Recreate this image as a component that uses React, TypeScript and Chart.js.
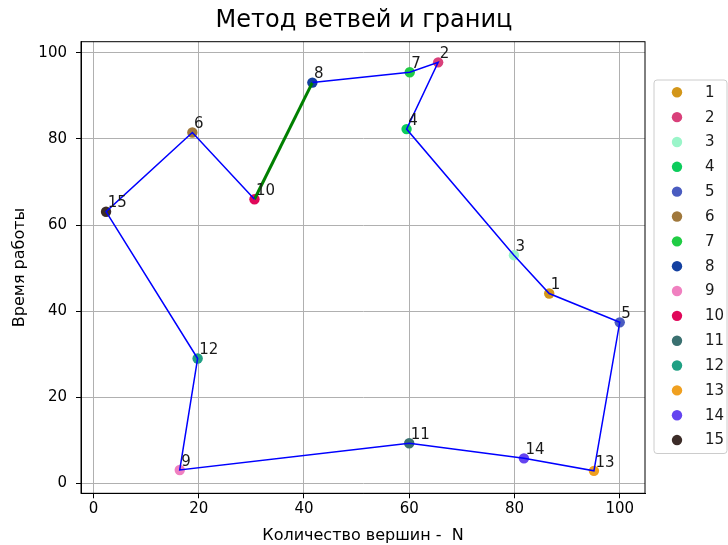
import React, { useEffect, useRef } from 'react';
import { Chart, registerables } from 'chart.js';

Chart.register(...registerables);

// ---- data ----
const vertexLabels = ['1', '2', '3', '4', '5', '6', '7', '8', '9', '10', '11', '12', '13', '14', '15'];
const xValues = [86.6, 65.5, 79.9, 59.5, 100.0, 18.8, 60.1, 41.6, 16.4, 30.6, 60.0, 19.8, 95.1, 81.8, 2.4];
const yValues = [44.1, 97.8, 53.0, 82.3, 37.4, 81.5, 95.5, 93.1, 3.1, 66.0, 9.3, 29.0, 2.9, 5.8, 63.1];
const vertexColors = [
  '#d39619', '#d9407a', '#9af5c9', '#0ccc5c', '#4a5cc0',
  '#a0783c', '#20cc44', '#1440a0', '#f080c0', '#e0085a',
  '#3a7070', '#20a084', '#f0a020', '#6444f0', '#3c2c28',
];
const routeOrder = [10, 6, 15, 12, 9, 11, 14, 13, 5, 1, 3, 4, 2, 7, 8];
const highlightEdge = [8, 10];
const xTicks = [0, 20, 40, 60, 80, 100];
const yTicks = [0, 20, 40, 60, 80, 100];

const titleText = 'Метод ветвей и границ';
const xTitle = 'Количество вершин -  N';
const yTitle = 'Время работы';

const FONT = "'DejaVu Sans', sans-serif";

export default function App() {
  const ref = useRef<HTMLCanvasElement>(null);

  useEffect(() => {
    const canvas = ref.current;
    if (!canvas) return;

    const idx = (n: number) => vertexLabels.indexOf(String(n));
    const routeData = routeOrder.map((n) => ({ x: xValues[idx(n)], y: yValues[idx(n)] }));
    const edgeData = highlightEdge.map((n) => ({ x: xValues[idx(n)], y: yValues[idx(n)] }));

    const pointDatasets = vertexLabels.map((lab, i) => ({
      type: 'scatter' as const,
      label: lab,
      data: [{ x: xValues[i], y: yValues[i] }],
      backgroundColor: vertexColors[i],
      borderColor: vertexColors[i],
      borderWidth: 0,
      pointRadius: 5.2,
      pointHoverRadius: 5.2,
      order: 1,
    }));

    const framePlugin = {
      id: 'frame',
      afterDraw(chart: any) {
        const { ctx, chartArea: a } = chart;
        ctx.save();
        ctx.strokeStyle = '#000';
        ctx.lineWidth = 1;
        ctx.strokeRect(a.left, a.top, a.right - a.left, a.bottom - a.top);
        ctx.restore();
      },
    };

    const labelPlugin = {
      id: 'pointLabels',
      afterDatasetsDraw(chart: any) {
        const { ctx, scales } = chart;
        ctx.save();
        ctx.font = `15px ${FONT}`;
        ctx.fillStyle = '#1a1a1a';
        ctx.textAlign = 'left';
        ctx.textBaseline = 'alphabetic';
        vertexLabels.forEach((lab, i) => {
          const px = scales.x.getPixelForValue(xValues[i] + 0.3);
          const py = scales.y.getPixelForValue(yValues[i] + 1.0);
          ctx.fillText(lab, px, py);
        });
        ctx.restore();
      },
    };

    const legendPlugin = {
      id: 'customLegend',
      afterDraw(chart: any) {
        const { ctx } = chart;
        const left = 654, top = 80, right = 727, bottom = 453.5, r = 3;
        ctx.save();
        ctx.beginPath();
        ctx.moveTo(left + r, top);
        ctx.lineTo(right - r, top);
        ctx.quadraticCurveTo(right, top, right, top + r);
        ctx.lineTo(right, bottom - r);
        ctx.quadraticCurveTo(right, bottom, right - r, bottom);
        ctx.lineTo(left + r, bottom);
        ctx.quadraticCurveTo(left, bottom, left, bottom - r);
        ctx.lineTo(left, top + r);
        ctx.quadraticCurveTo(left, top, left + r, top);
        ctx.closePath();
        ctx.fillStyle = 'rgba(255,255,255,0.8)';
        ctx.fill();
        ctx.strokeStyle = '#cccccc';
        ctx.lineWidth = 1;
        ctx.stroke();
        const step = 24.84;
        ctx.font = `15px ${FONT}`;
        ctx.textAlign = 'left';
        ctx.textBaseline = 'middle';
        vertexLabels.forEach((lab, i) => {
          const y = 92.3 + i * step;
          ctx.beginPath();
          ctx.arc(677, y, 5.2, 0, Math.PI * 2);
          ctx.fillStyle = vertexColors[i];
          ctx.fill();
          ctx.fillStyle = '#1a1a1a';
          ctx.fillText(lab, 705, y + 0.5);
        });
        ctx.restore();
      },
    };

    const chart = new Chart(canvas, {
      type: 'scatter',
      data: {
        datasets: [
          {
            type: 'line',
            label: 'route',
            data: routeData,
            borderColor: '#0000ff',
            backgroundColor: '#0000ff',
            borderWidth: 1.5,
            pointRadius: 0,
            pointHoverRadius: 0,
            showLine: true,
            fill: false,
            tension: 0,
            order: 0,
          },
          {
            type: 'line',
            label: 'edge',
            data: edgeData,
            borderColor: '#008000',
            backgroundColor: '#008000',
            borderWidth: 3,
            pointRadius: 0,
            pointHoverRadius: 0,
            showLine: true,
            fill: false,
            tension: 0,
            order: 0,
          },
          ...pointDatasets,
        ] as any,
      },
      options: {
        animation: false,
        responsive: false,
        events: [],
        layout: { padding: 0 },
        plugins: {
          legend: { display: false },
          tooltip: { enabled: false },
          title: {
            display: true,
            text: titleText,
            color: '#000',
            font: { family: FONT, size: 24, weight: 'normal', lineHeight: 1.2 },
            padding: { top: 6.7, bottom: 6.2 },
          },
        },
        scales: {
          x: {
            type: 'linear',
            min: -2.36,
            max: 104.8,
            afterBuildTicks: (s: any) => {
              s.ticks = xTicks.map((v) => ({ value: v }));
            },
            afterFit: (s: any) => {
              s.height = 51.7;
            },
            ticks: {
              color: '#000',
              font: { family: FONT, size: 15 },
              padding: 2,
              maxRotation: 0,
              callback: (v: any) => String(v),
            },
            grid: {
              color: '#b0b0b0',
              lineWidth: 1,
              drawTicks: true,
              tickLength: 5,
              tickColor: '#000',
            },
            border: { display: true, color: '#000', width: 1 },
            title: {
              display: true,
              text: xTitle,
              color: '#000',
              font: { family: FONT, size: 16 },
              padding: { top: 0, bottom: 0 },
            },
          },
          y: {
            type: 'linear',
            min: -2.32,
            max: 102.6,
            afterBuildTicks: (s: any) => {
              s.ticks = yTicks.map((v) => ({ value: v }));
            },
            afterFit: (s: any) => {
              s.width = 81;
            },
            ticks: {
              color: '#000',
              font: { family: FONT, size: 15 },
              padding: 9,
              callback: (v: any) => String(v),
            },
            grid: {
              color: '#b0b0b0',
              lineWidth: 1,
              drawTicks: true,
              tickLength: 5,
              tickColor: '#000',
            },
            border: { display: true, color: '#000', width: 1 },
            title: {
              display: true,
              text: yTitle,
              color: '#000',
              font: { family: FONT, size: 16 },
              padding: { top: 10.6, bottom: 0 },
            },
          },
          spacer: {
            type: 'linear',
            position: 'right',
            display: true,
            afterFit: (s: any) => {
              s.width = 83;
            },
            ticks: { display: false },
            grid: { display: false, drawTicks: false },
            border: { display: false },
            title: { display: false },
          },
        },
      } as any,
      plugins: [framePlugin, labelPlugin, legendPlugin],
    });

    return () => chart.destroy();
  }, []);

  return (
    <div style={{ position: 'fixed', left: 0, top: 0, width: 728, height: 545, background: '#fff' }}>
      <canvas ref={ref} width={728} height={545} style={{ display: 'block', width: 728, height: 545 }} />
    </div>
  );
}
